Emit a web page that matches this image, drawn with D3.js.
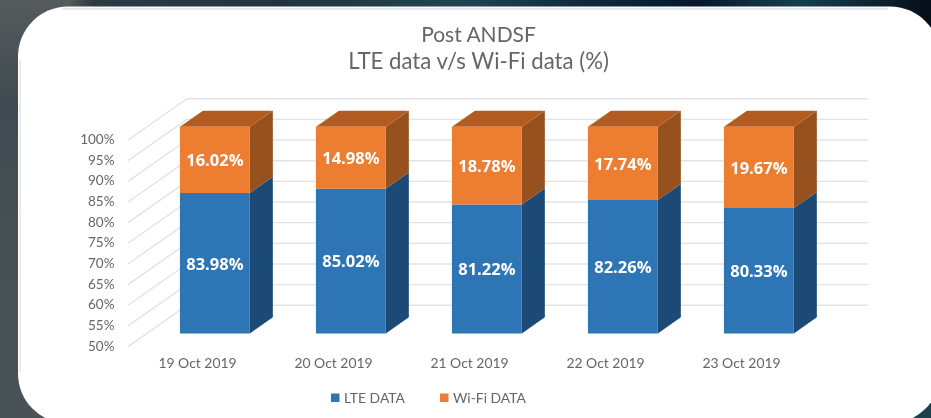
<!DOCTYPE html>
<html><head><meta charset="utf-8">
<script src="https://cdn.jsdelivr.net/npm/d3@7/dist/d3.min.js"></script>
<style>html,body{margin:0;padding:0;background:#4a5255;overflow:hidden}svg{display:block}text{font-family:Lato,"Open Sans",sans-serif}</style>
</head><body><svg id="c" width="931" height="418"></svg>
<script>
const categories = ["19 Oct 2019","20 Oct 2019","21 Oct 2019","22 Oct 2019","23 Oct 2019"];
const lteValues = [83.98,85.02,81.22,82.26,80.33];
const wifiValues = [16.02,14.98,18.78,17.74,19.67];
const tickValues = [50,55,60,65,70,75,80,85,90,95,100];
const seriesNames = ["LTE DATA","Wi-Fi DATA"];
const titleLines = ["Post ANDSF","LTE data v/s Wi-Fi data (%)"];
const titleSizes = [21,22.2];

const svg = d3.select("#c"), defs = svg.append("defs");
// blurred photo backdrop behind the card
const gradTop = defs.append("linearGradient").attr("id","bgTop");
[[0,"#565b5c"],[.07,"#5a6060"],[.1,"#2d3b43"],[.3,"#20343f"],[.5,"#1f4650"],[.63,"#0e2a38"],[.75,"#06182a"],[.86,"#15404f"],[1,"#050d18"]]
  .forEach(s=>gradTop.append("stop").attr("offset",s[0]).attr("stop-color",s[1]));
const gradLeft = defs.append("linearGradient").attr("id","bgLeft").attr("x2",0).attr("y2",1);
[[0,"#565b5c"],[.25,"#3f4b51"],[.6,"#475154"],[1,"#495256"]]
  .forEach(s=>gradLeft.append("stop").attr("offset",s[0]).attr("stop-color",s[1]));
svg.append("rect").attr("width",931).attr("height",418).attr("fill","url(#bgTop)");
svg.append("rect").attr("width",70).attr("height",418).attr("fill","url(#bgLeft)");
svg.append("rect").attr("x",880).attr("y",330).attr("width",51).attr("height",88).attr("fill","#1b3f4b");
defs.append("filter").attr("id","soft").append("feGaussianBlur").attr("stdDeviation",.35);

// card
svg.append("rect").attr("x",18).attr("y",6.5).attr("width",922).attr("height",417).attr("rx",50).attr("fill","#fff");
svg.append("path").attr("d","M62 8.7H888").attr("stroke","#e6e6e6").attr("stroke-width",2).attr("fill","none");
svg.append("path").attr("d","M20 60V372").attr("stroke","#e4e4e4").attr("stroke-width",1.5).attr("fill","none");

// pseudo-3D scales: front plane x/y plus a depth projection
const x = d3.scaleBand().domain(categories).range([128,808]).paddingInner(.486).paddingOuter(.243);
const y = d3.scaleLinear().domain([50,100]).range([346.6,140]);
const depthX = d3.scaleLinear().domain([0,1]).range([0,59]);
const depthY = d3.scaleLinear().domain([0,1]).range([0,-41.3]);
const xPlaneEnd = 809;
const P = (px,v,d)=>[px+depthX(d), y(v)+depthY(d)];
const poly = pts => "M"+pts.map(p=>p.join(",")).join("L")+"Z";

// walls
const grid = svg.append("g").attr("fill","none").attr("stroke","#e3e3e3").attr("stroke-width",1.4);
tickValues.forEach(t=>{
  const a=P(x.range()[0],t,0), b=P(x.range()[0],t,1), c=P(xPlaneEnd,t,1);
  grid.append("path").attr("d",`M${a}L${b}L${c}`).attr("stroke-linejoin","round");
});
// value ticks
const tg = svg.append("g").attr("filter","url(#soft)");
tg.selectAll("text").data(tickValues).join("text")
  .attr("x",114.5).attr("y",t=>y(t)).attr("dy",".3em").attr("text-anchor","end")
  .attr("font-size",13.5).attr("fill","#666").text(t=>t+"%");

// bars
const d0=.32, d1=.71;
const stacks = categories.map((c,i)=>({c,lte:lteValues[i],wifi:wifiValues[i]}));
const colors = {lte:["#2e75b6","#1c4a76"],wifi:["#ed7d31","#96511e","#b35c22"]};
const bars = svg.selectAll(".b").data(stacks).join("g");
bars.each(function(s){
  const g=d3.select(this), l=x(s.c), r=l+x.bandwidth(), m=s.lte, t=m+s.wifi;
  const F=(xx,v)=>P(xx,v,d0), B=(xx,v)=>P(xx,v,d1);
  g.append("path").attr("d",poly([F(r,50),B(r,50),B(r,m),F(r,m)])).attr("fill",colors.lte[1]);
  g.append("path").attr("d",poly([F(r,m),B(r,m),B(r,t),F(r,t)])).attr("fill",colors.wifi[1]);
  g.append("path").attr("d",poly([F(l,t),B(l,t),B(r,t),F(r,t)])).attr("fill",colors.wifi[2]);
  g.append("path").attr("d",poly([F(l,50),F(r,50),F(r,m),F(l,m)])).attr("fill",colors.lte[0]);
  g.append("path").attr("d",poly([F(l,m),F(r,m),F(r,t),F(l,t)])).attr("fill",colors.wifi[0]);
  const cx=F(l,50)[0]+x.bandwidth()/2;
  [[(50+m)/2,s.lte],[(m+t)/2,s.wifi]].forEach(d=>{
    g.append("text").attr("x",cx).attr("y",F(l,d[0])[1]+.5).attr("dy",".36em").attr("text-anchor","middle")
     .attr("style","font-family:'Open Sans'").attr("font-weight",700).attr("font-size",16.5).attr("fill","#fff")
     .attr("filter","url(#soft)").text(d[1].toFixed(2)+"%");
  });
});

// category labels
const cg = svg.append("g").attr("filter","url(#soft)");
cg.selectAll("text").data(categories).join("text")
  .attr("x",c=>x(c)+x.bandwidth()/2+1.5).attr("y",368).attr("text-anchor","middle")
  .attr("font-size",13.9).attr("fill","#666").text(c=>c);

// title
svg.append("g").attr("filter","url(#soft)").selectAll("text").data(titleLines).join("text")
  .attr("x",478.5).attr("y",(d,i)=>41.5+i*27.5).attr("text-anchor","middle")
  .attr("font-size",(d,i)=>titleSizes[i]).attr("fill","#666").text(d=>d);

// legend
const lg = svg.append("g").attr("filter","url(#soft)");
[[331,colors.lte[0],344],[440,colors.wifi[0],453]].forEach((d,i)=>{
  lg.append("rect").attr("x",d[0]).attr("y",393.5).attr("width",8.5).attr("height",8.5).attr("fill",d[1]);
  lg.append("text").attr("x",d[2]).attr("y",402.5).attr("font-size",13.9).attr("fill","#666").text(seriesNames[i]);
});
</script></body></html>
